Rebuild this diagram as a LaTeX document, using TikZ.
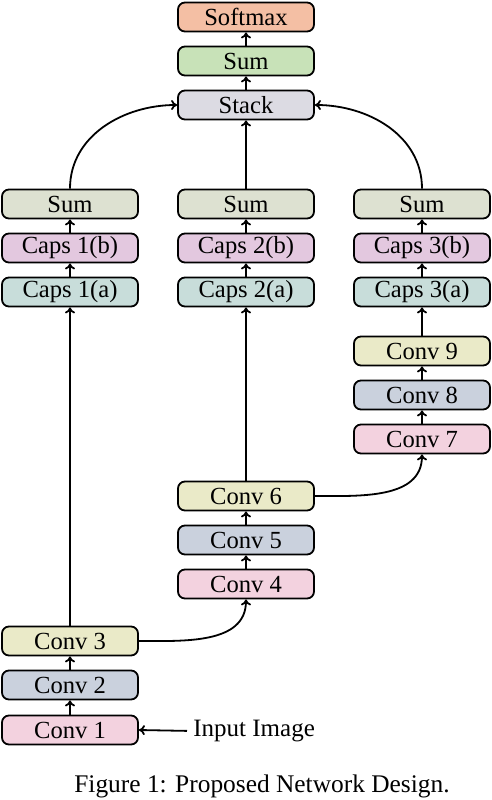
\documentclass[tikz,border=0pt]{standalone}
\usepackage{fontspec}
\setmainfont{Liberation Serif}
\usetikzlibrary{arrows.meta}
\definecolor{cSoft}{HTML}{F4BFA4}
\definecolor{cSumT}{HTML}{C8E2B8}
\definecolor{cStack}{HTML}{DCDBE3}
\definecolor{cSum}{HTML}{DDE1D1}
\definecolor{cCapB}{HTML}{E3C8DF}
\definecolor{cCapA}{HTML}{C8DDDA}
\definecolor{cConvY}{HTML}{EAEAC8}
\definecolor{cConvB}{HTML}{CAD1DD}
\definecolor{cConvP}{HTML}{F3D2DF}
\begin{document}
\begin{tikzpicture}[x=0.5pt,y=-0.5pt,
  blk/.style={draw, line width=0.9pt, rounded corners=3.5pt, minimum width=68pt, minimum height=14.5pt, inner sep=0pt, font=\fontsize{12.3}{14}\selectfont},
  arr/.style={line width=0.9pt, -{To[length=3pt,width=5pt]}},
  ln/.style={line width=0.9pt}]
\useasboundingbox (0,0) rectangle (492,800);
% top
\node[blk, fill=cSoft] (soft) at (246,17) {Softmax};
\node[blk, fill=cSumT] (sumt) at (246,61) {Sum};
\node[blk, fill=cStack] (stack) at (246,105) {Stack};
% column 1
\node[blk, fill=cSum] (sum1) at (70,204) {Sum};
\node[blk, fill=cCapB] (c1b) at (70,248) {Caps 1(b)};
\node[blk, fill=cCapA] (c1a) at (70,292) {Caps 1(a)};
\node[blk, fill=cConvY] (conv3) at (70,641) {Conv 3};
\node[blk, fill=cConvB] (conv2) at (70,685) {Conv 2};
\node[blk, fill=cConvP] (conv1) at (70,730) {Conv 1};
% column 2
\node[blk, fill=cSum] (sum2) at (246,204) {Sum};
\node[blk, fill=cCapB] (c2b) at (246,248) {Caps 2(b)};
\node[blk, fill=cCapA] (c2a) at (246,292) {Caps 2(a)};
\node[blk, fill=cConvY] (conv6) at (246,496) {Conv 6};
\node[blk, fill=cConvB] (conv5) at (246,540) {Conv 5};
\node[blk, fill=cConvP] (conv4) at (246,584) {Conv 4};
% column 3
\node[blk, fill=cSum] (sum3) at (422,204) {Sum};
\node[blk, fill=cCapB] (c3b) at (422,248) {Caps 3(b)};
\node[blk, fill=cCapA] (c3a) at (422,292) {Caps 3(a)};
\node[blk, fill=cConvY] (conv9) at (422,351) {Conv 9};
\node[blk, fill=cConvB] (conv8) at (422,395) {Conv 8};
\node[blk, fill=cConvP] (conv7) at (422,439) {Conv 7};
% input and caption
\node[anchor=west, inner sep=0pt, font=\fontsize{12.5}{14}\selectfont] (inp) at (193,731) {Input Image};
\node[inner sep=0pt, font=\fontsize{12.7}{14}\selectfont] (cap) at (262,786) {Figure 1: Proposed Network Design.};
% arrows
\draw[arr, shorten <=3pt] (inp.west) -- (conv1.east);
\draw[arr] (conv1) -- (conv2);
\draw[arr] (conv2) -- (conv3);
\draw[arr] (conv3) -- (c1a);
\draw[arr] (c1a) -- (c1b);
\draw[arr] (c1b) -- (sum1);
\draw[arr] (conv3.east) to[out=0,in=-90] (conv4.south);
\draw[arr] (conv4) -- (conv5);
\draw[arr] (conv5) -- (conv6);
\draw[arr] (conv6) -- (c2a);
\draw[arr] (c2a) -- (c2b);
\draw[arr] (c2b) -- (sum2);
\draw[arr] (conv6.east) to[out=0,in=-90] (conv7.south);
\draw[arr] (conv7) -- (conv8);
\draw[arr] (conv8) -- (conv9);
\draw[arr] (conv9) -- (c3a);
\draw[arr] (c3a) -- (c3b);
\draw[arr] (c3b) -- (sum3);
\draw[arr] (sum1.north) to[out=90,in=180] (stack.west);
\draw[arr] (sum2) -- (stack);
\draw[arr] (sum3.north) to[out=90,in=0] (stack.east);
\draw[arr] (stack) -- (sumt);
\draw[arr] (sumt) -- (soft);
\end{tikzpicture}
\end{document}
